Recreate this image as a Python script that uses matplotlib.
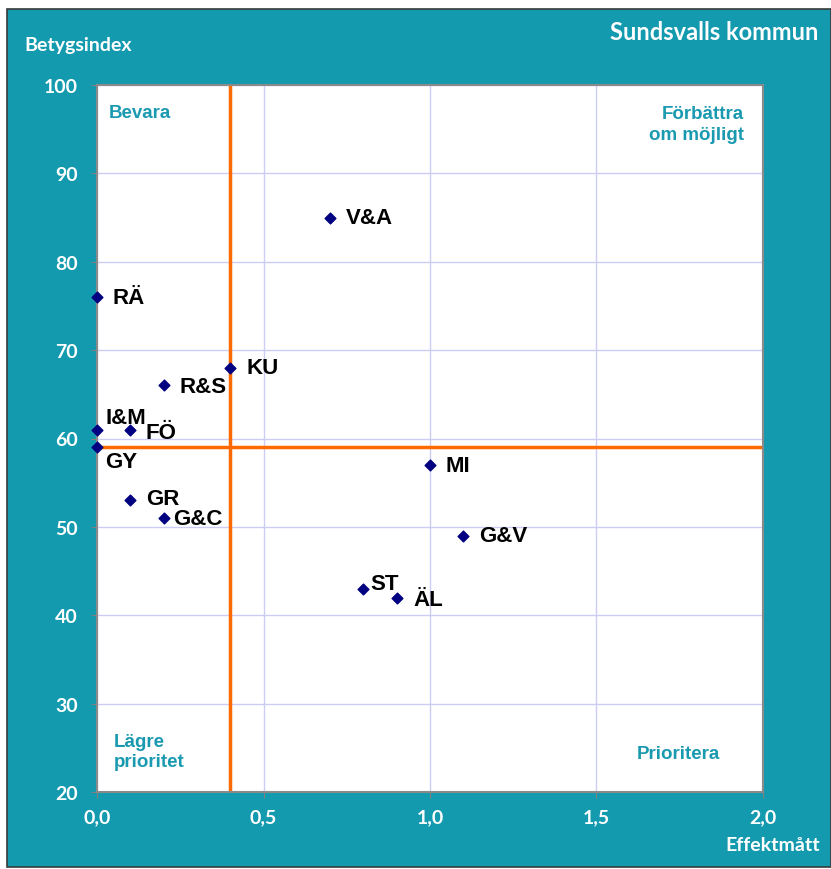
import matplotlib
matplotlib.use("Agg")
import matplotlib.pyplot as plt
from matplotlib.patches import Rectangle
from matplotlib.font_manager import FontProperties

labels = ["V&A", "RÄ", "KU", "R&S", "I&M", "FÖ", "GY", "GR", "G&C", "MI", "G&V", "ST", "ÄL"]
effekt = [0.7, 0.0, 0.4, 0.2, 0.0, 0.1, 0.0, 0.1, 0.2, 1.0, 1.1, 0.8, 0.9]
betyg = [85, 76, 68, 66, 61, 61, 59, 53, 51, 57, 49, 43, 42]
label_offsets = {"V&A": (11.5, 0), "RÄ": (11.5, 0), "KU": (11.5, 0), "R&S": (11.5, -1),
                 "I&M": (6, 9), "FÖ": (11, -2), "GY": (6, -10), "GR": (11.5, 1),
                 "G&C": (7, 0), "MI": (11.5, 0), "G&V": (11.5, 0), "ST": (5, 4), "ÄL": (12, -1.5)}
x_ticks = [0.0, 0.5, 1.0, 1.5, 2.0]
y_ticks = [20, 30, 40, 50, 60, 70, 80, 90, 100]
ref_x = 0.4
ref_y = 59

TEAL = "#149aaf"
QTXT = "#1a9ab0"
W, H = 831, 870
NARROW = ["Lato", "DejaVu Sans"]
fig = plt.figure(figsize=(W / 100, H / 100), dpi=100, facecolor="white")
fig.patches.append(Rectangle((7 / W, 2 / H), 1 - 7 / W, (868 - 10) / H, transform=fig.transFigure,
                             facecolor=TEAL, edgecolor="#3a3a3a", linewidth=1.2, zorder=-10))

ax = fig.add_axes([97 / W, 1 - 793 / H, (763 - 97) / W, (793 - 86) / H], zorder=2)
ax.set_facecolor("white")
ax.set_xlim(0, 2.0)
ax.set_ylim(20, 100)
ax.set_xticks(x_ticks)
ax.set_yticks(y_ticks)
ax.set_xticklabels([f"{v:.1f}".replace(".", ",") for v in x_ticks])
ax.set_yticklabels([str(v) for v in y_ticks])
fp = FontProperties(family=NARROW, weight="bold", size=14)
for t in ax.get_xticklabels() + ax.get_yticklabels():
    t.set_fontproperties(fp)
    t.set_color("white")
ax.tick_params(axis="x", length=4, color="#808080", pad=8)
ax.tick_params(axis="y", length=4, color="#808080", pad=10)
ax.grid(True, color="#ccccf5", linewidth=1)
ax.set_axisbelow(True)
for s in ax.spines.values():
    s.set_color("#8a8a8a")
    s.set_linewidth(1.5)

ax.axvline(ref_x, color="#ff6a00", linewidth=2.5, zorder=2)
ax.axhline(ref_y, color="#ff6a00", linewidth=2.5, zorder=2)

ax.scatter(effekt, betyg, marker="D", s=30, color="#000080", zorder=5, clip_on=False)
for lab, x, y in zip(labels, effekt, betyg):
    dx, dy = label_offsets[lab]
    ax.annotate(lab, (x, y), xytext=(dx, dy), textcoords="offset points", ha="left", va="center",
                fontsize=16, fontweight="bold", family="Liberation Sans", color="black", zorder=6)

qfont = dict(fontsize=13.5, fontweight="bold", family="Liberation Sans", color=QTXT)
ax.text(0.036, 96.9, "Bevara", ha="left", va="center", **qfont)
ax.text(1.943, 95.6, "Förbättra\nom möjligt", ha="right", va="center", linespacing=1.25, **qfont)
ax.text(0.051, 24.6, "Lägre\nprioritet", ha="left", va="center", linespacing=1.2, **qfont)
ax.text(1.871, 24.4, "Prioritera", ha="right", va="center", **qfont)

hdr = dict(color="white", fontweight="bold", family=NARROW)
fig.text(818 / W, 1 - 32 / H, "Sundsvalls kommun", ha="right", va="center", fontsize=17, **hdr)
fig.text(24 / W, 1 - 46 / H, "Betygsindex", ha="left", va="center", fontsize=14, **hdr)
fig.text(820 / W, 1 - 846 / H, "Effektmått", ha="right", va="center", fontsize=14, **hdr)

fig.savefig("out.png", dpi=100, facecolor="white")
